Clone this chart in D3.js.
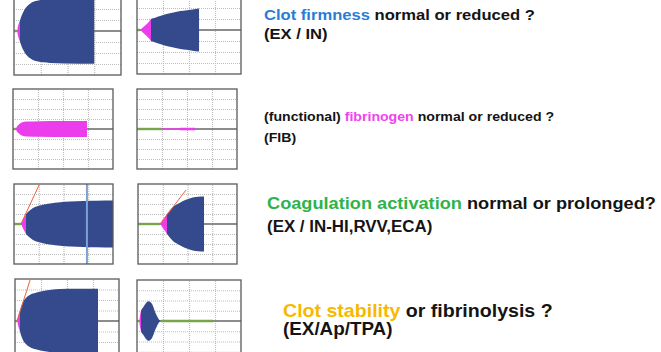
<!DOCTYPE html>
<html>
<head>
<meta charset="utf-8">
<script src="https://cdn.jsdelivr.net/npm/d3@7"></script>
<style>
body{margin:0;background:#fff}
svg{display:block}
.caption{font-family:"Liberation Sans",Arial,sans-serif;font-weight:bold}
.grid line{stroke:#bdbdbd;stroke-width:1.2;stroke-dasharray:1,1}
.grid path{display:none}
</style>
</head>
<body>
<svg id="chart"></svg>
<script>
//grid of every panel: time in minutes, amplitude in mm
var timeTicks = [15,30,45]
var ampTicks = [-60,-40,-20,20,40,60]

//traces, [time (min), amplitude (mm)]
var exNormal = [[0,0],[1.7,0],[2.2,8],[2.8,15],[3.4,20],[4.3,28],[5.2,34.5],[7.1,44],[9,49.5],[10.8,53],[13.5,55.5],[16.4,57],[20.2,58],[28,59],[45,59.5]]
var exReduced = [[0,0],[1.7,0],[3,3.5],[5,9],[7,15.5],[8.1,20],[10.5,22.5],[13.3,25.5],[17,29],[21,32],[25,34.5],[28.7,36],[32,37.5],[35.8,39]]
var fibNormal = [[0,0],[1.8,0],[2.1,3.5],[2.5,5.5],[3.2,8],[4.2,11],[5.2,13],[8.2,14.8],[16,15.6],[30,16],[44.4,16.2]]
var fibReduced = [[0,0],[14.8,0],[15,1.3],[25,1.3],[26,2.4],[34.8,2.4]]
var inNormal = [[0,0],[4.2,0],[5.2,7],[6.3,14],[7.3,20],[8.1,23],[9.5,27],[11.5,32],[14,35.5],[17.5,38.5],[21.8,41],[28,43.5],[34,45],[42,46],[50,46.5],[60,47]]
var inProlonged = [[0,0],[13.3,0],[14.5,5],[16,12],[17.6,20],[19.5,28],[21.2,34],[24,40],[27.3,46],[30,49.5],[33.3,53],[36.5,54.5],[40,55]]
var apStable = [[0,0],[1.2,0],[1.9,10],[2.9,20],[3.6,28],[4.6,36],[6,43],[8.7,50],[12,54],[16.2,57],[21,59.5],[26,61],[35,61.5],[47.9,61.5]]
var tpaLysis = [[0,0],[1.2,0],[1.7,10],[2.3,20],[3.6,27],[5,34],[6.5,38.5],[7.5,37.5],[8.5,34],[9.5,27],[10.4,18],[11.5,10],[12.3,5],[13.8,0],[43.8,0]]

//alpha angle tangents and cursor
var inNormalAlpha = [[4.2,0],[15.2,78]]
var inProlongedAlpha = [[13.3,0],[29.1,68]]
var apStableAlpha = [[1.15,0],[8.7,78]]
var inNormalCursor = 44.2

var captionLines = [
  [[["Clot firmness","#2b7dd4"],[" normal or reduced ?","#141414"]],[["(EX / IN)","#141414"]]],
  [[["(functional) ","#141414"],["fibrinogen","#f044f0"],[" normal or reduced ?","#141414"]],[["(FIB)","#141414"]]],
  [[["Coagulation activation","#2db34a"],[" normal or prolonged?","#141414"]],[["(EX / IN-HI,RVV,ECA)","#141414"]]],
  [[["Clot stability","#f8b800"],[" or fibrinolysis ?","#141414"]],[["(EX/Ap/TPA)","#141414"]]]
]

var panels = [
  {trace:exNormal, box:{x:14,y:-13,w:107,h:88}},
  {trace:exReduced, box:{x:137,y:-14,w:104,h:88}},
  {trace:fibNormal, box:{x:13,y:89,w:100,h:80}},
  {trace:fibReduced, box:{x:137,y:89,w:100,h:80}},
  {trace:inNormal, alpha:inNormalAlpha, cursor:inNormalCursor, box:{x:14,y:184,w:99,h:80}},
  {trace:inProlonged, alpha:inProlongedAlpha, box:{x:138,y:184,w:99,h:80}},
  {trace:apStable, alpha:apStableAlpha, box:{x:15,y:279,w:104,h:84}},
  {trace:tpaLysis, box:{x:137,y:280,w:104,h:82}}
]

//x, baselines and font sizes of the two caption lines
var captionLayout = [
  {x:264, y:[20,39], size:[15.5,15.5]},
  {x:264, y:[121,141.5], size:[13.2,13.2]},
  {x:267, y:[209,232], size:[17,15.8]},
  {x:283, y:[316.5,335], size:[18.3,17.6]}
]

var svg = d3.select("#chart").attr("width",661).attr("height",352)
var defs = svg.append("defs")

var drawPanel = function(p,i)
{
    var box = p.box
    var x = d3.scaleLinear().domain([0,60]).range([0,box.w])
    var y = d3.scaleLinear().domain([-80,80]).range([box.h,0])

    var g = svg.append("g")
        .attr("transform","translate("+box.x+","+box.y+")")

    defs.append("clipPath").attr("id","clip"+i)
        .append("rect").attr("width",box.w).attr("height",box.h)

    var inner = g.append("g").attr("clip-path","url(#clip"+i+")")

    //dotted grid
    inner.append("g").attr("class","grid")
        .attr("transform","translate(0,"+box.h+")")
        .call(d3.axisBottom(x).tickValues(timeTicks).tickSize(-box.h).tickFormat(""))
    inner.append("g").attr("class","grid")
        .call(d3.axisLeft(y).tickValues(ampTicks).tickSize(-box.w).tickFormat(""))

    //zero line
    inner.append("line")
        .attr("x1",0).attr("x2",box.w)
        .attr("y1",y(0)).attr("y2",y(0))
        .attr("stroke","#666").attr("stroke-width",1.4)

    //CFT ends where the amplitude first reaches 20 mm
    var hit = p.trace.find(function(d){return d[1]>=20})
    var cftEnd = hit ? hit[0] : 60

    var area = d3.area()
        .x(function(d){return x(d[0])})
        .y0(function(d){return y(-d[1])})
        .y1(function(d){return y(d[1])})
        .curve(d3.curveMonotoneX)

    defs.append("clipPath").attr("id","cft"+i)
        .append("rect").attr("x",0).attr("width",x(cftEnd)).attr("height",box.h)
    defs.append("clipPath").attr("id","mcf"+i)
        .append("rect").attr("x",x(cftEnd)).attr("width",box.w).attr("height",box.h)

    inner.append("path").datum(p.trace)
        .attr("d",area).attr("fill","#ec3dec")
        .attr("clip-path","url(#cft"+i+")")
    inner.append("path").datum(p.trace)
        .attr("d",area).attr("fill","#354a8c")
        .attr("clip-path","url(#mcf"+i+")")

    //green where there is no clot yet (or no longer)
    var runs = []
    var start = null
    p.trace.forEach(function(d,k)
    {
        if(d[1]<1)
        {
            if(start===null) start = d[0]
            if(k==p.trace.length-1 && d[0]>start) runs.push([start,d[0]])
        }
        else
        {
            if(start!==null && k>0 && p.trace[k-1][0]>start) runs.push([start,p.trace[k-1][0]])
            start = null
        }
    })
    inner.selectAll(".noclot").data(runs).enter().append("line")
        .attr("x1",function(r){return x(r[0])})
        .attr("x2",function(r){return x(r[1])})
        .attr("y1",y(0)).attr("y2",y(0))
        .attr("stroke","#77a54a").attr("stroke-width",2.4)

    if(p.alpha)
    {
        inner.append("path").datum(p.alpha)
            .attr("d",d3.line().x(function(d){return x(d[0])}).y(function(d){return y(d[1])}))
            .attr("stroke","#f2603c").attr("stroke-width",1).attr("fill","none")
    }

    if(p.cursor!=null)
    {
        inner.append("line")
            .attr("x1",x(p.cursor)).attr("x2",x(p.cursor))
            .attr("y1",0).attr("y2",box.h)
            .attr("stroke","#7aa2d6").attr("stroke-width",2)
    }

    g.append("rect")
        .attr("width",box.w).attr("height",box.h)
        .attr("fill","none").attr("stroke","#5a5a5a").attr("stroke-width",1.3)
}

panels.forEach(drawPanel)

//captions
captionLines.forEach(function(lines,i)
{
    var lay = captionLayout[i]
    lines.forEach(function(parts,j)
    {
        var t = svg.append("text")
            .attr("class","caption")
            .attr("transform","translate("+lay.x+","+lay.y[j]+") scale(1.07,1)")
            .attr("font-size",lay.size[j])
        parts.forEach(function(part)
        {
            t.append("tspan").text(part[0]).attr("fill",part[1])
        })
    })
})
</script>
</body>
</html>
